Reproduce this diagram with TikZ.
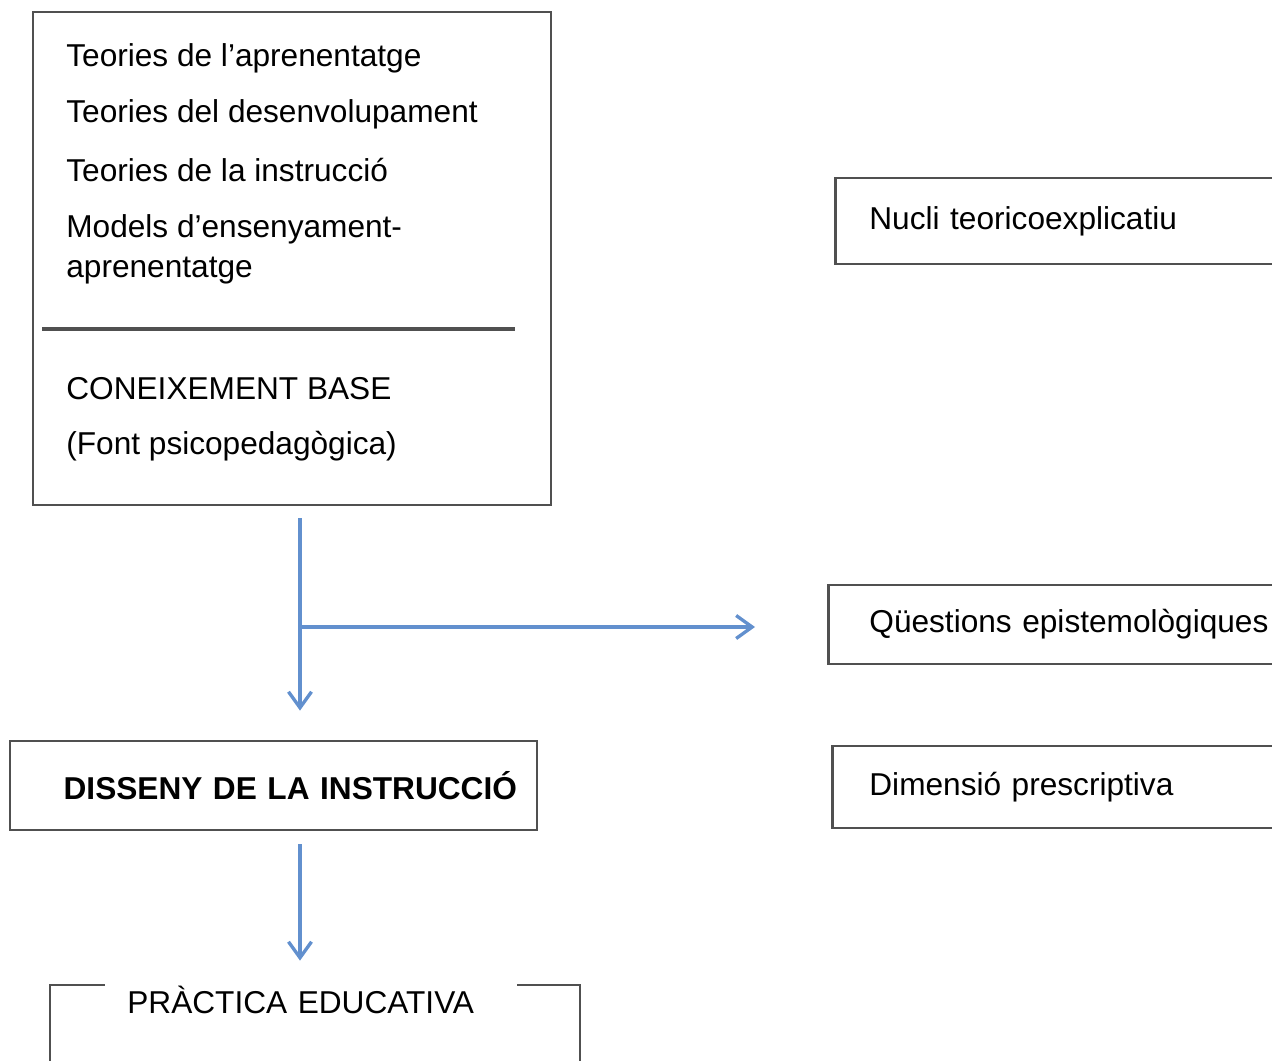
\documentclass[tikz,border=0pt]{standalone}
\usepackage{fontspec}
\setmainfont{Liberation Sans}
\usetikzlibrary{arrows.meta,positioning}
\definecolor{boxgray}{RGB}{80,80,80}
\definecolor{arrblue}{RGB}{98,144,206}
\tikzset{
	box/.style={draw=boxgray,line width=1.6pt,rectangle,inner sep=0pt},
	txt/.style={anchor=base west,inner sep=0pt,align=left},
	sidebox/.style={box,anchor=west,align=left},
	arr/.style={draw=arrblue,line width=1.9pt,-{Straight Barb[length=0.32cm,width=0.46cm]}}
}

\begin{document}
\begin{tikzpicture}[x=0.02cm,y=-0.02cm,font=\fontsize{18pt}{22.7pt}\selectfont]
	\useasboundingbox (0,0) rectangle (1272,1061);
	\clip (0,0) rectangle (1272,1061);
	\node[box,minimum width=10.36cm,minimum height=9.86cm] (base) at (292,258.5) {};
	\node[txt] (apr) at (66,67) {Teories de l’aprenentatge};
	\node[txt] (des) at (66,123) {Teories del desenvolupament};
	\node[txt] (ins) at (66,181) {Teories de la instrucció};
	\node[txt] (mod) at (66,277) {Models d’ensenyament-\\aprenentatge};
	\draw[boxgray,line width=1.9pt] (42,329) -- (515,329);
	\node[txt] (con) at (66,399) {CONEIXEMENT BASE};
	\node[txt] (fon) at (66,454) {(Font psicopedagògica)};
	\node[box,minimum width=10.54cm,minimum height=1.78cm,text width=9.74cm,inner xsep=0.4cm,align=right,font=\fontsize{18pt}{22.7pt}\selectfont\bfseries] (dis) at (273.5,785.5) {DISSENY DE LA INSTRUCCIÓ};
	\node[box,minimum width=10.6cm,minimum height=3cm] (prac) at (315,1060) {};
	\node[fill=white,anchor=base west,inner sep=0pt,inner ysep=0.12cm,text width=8.24cm,align=left] (ptxt) at (105,1013) {\hspace*{0.44cm}PRÀCTICA EDUCATIVA};
	\node[sidebox,minimum height=1.72cm,text width=8.76cm,inner xsep=0.68cm] (nuc) at (834,221) {Nucli teoricoexplicatiu};
	\node[sidebox,minimum height=1.58cm,text width=8.62cm,inner xsep=0.82cm] (que) at (827,624.5) {Qüestions epistemològiques};
	\node[sidebox,minimum height=1.64cm,text width=8.70cm,inner xsep=0.74cm] (dim) at (831,787) {Dimensió prescriptiva};
	\coordinate (split) at (300,627);
	
	\draw[arr,shorten <=0.24cm,shorten >=0.58cm] (base.south -| split) -- (dis.north -| split);
	\draw[arr,shorten >=1.44cm] (split) -- (split -| que.west);
	\draw[arr,shorten <=0.26cm,shorten >=0.46cm] (dis.south -| split) -- (prac.north -| split);
\end{tikzpicture}
\end{document}
